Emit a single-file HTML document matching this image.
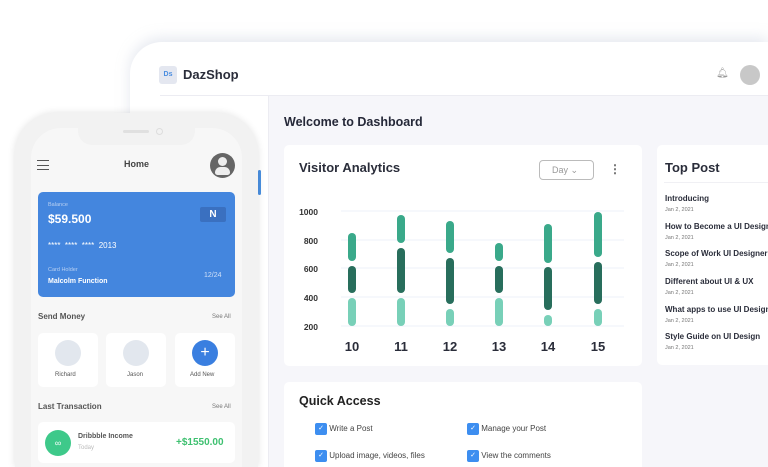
<!DOCTYPE html>
<html style="width:768px;height:467px;overflow:hidden"><head><style>
*{margin:0;padding:0;box-sizing:border-box}
body{width:768px;height:467px;overflow:hidden;background:#fff;font-family:"Liberation Sans",sans-serif;position:relative}
.a{position:absolute}
.t{white-space:nowrap}
</style></head><body>
<div class="a" style="left:0;top:0;width:768px;height:467px;overflow:hidden">
<div class="a" style="left:130px;top:42px;width:638px;height:425px;background:#fff;border-radius:32px 0 0 0;box-shadow:0 -4px 14px rgba(180,190,210,.35)"></div>
<div class="a" style="left:160px;top:95px;width:608px;height:1px;background:#ececf2"></div>
<div class="a" style="left:268px;top:96px;width:500px;height:371px;background:#f6f6fa;border-left:1px solid #ececf2"></div>
<div class="a" style="left:159px;top:66px;width:18px;height:18px;background:#e4e7f0;border-radius:3px;color:#4a8de0;font-size:7px;font-weight:bold;text-align:center;line-height:18px">Ds</div>
<div class="a t" style="left:183px;top:67px;font-size:13px;font-weight:bold;color:#2a2d3a">DazShop</div>
<div class="a t" style="left:716px;top:68px;font-size:10px;color:#999">&#x1F514;&#xFE0E;</div>
<div class="a" style="left:740px;top:65px;width:20px;height:20px;border-radius:50%;background:#c8c8c8"></div>
<div class="a t" style="left:284px;top:115px;font-size:12.5px;font-weight:bold;color:#252838">Welcome to Dashboard</div>
<div class="a" style="left:284px;top:145px;width:358px;height:221px;background:#fff;border-radius:5px"></div>
<div class="a t" style="left:299px;top:160px;font-size:13px;font-weight:bold;color:#2a2d3a">Visitor Analytics</div>
<div class="a" style="left:539px;top:160px;width:55px;height:20px;border:1px solid #bbb;border-radius:4px;font-size:9px;color:#999;line-height:18px;padding-left:12px">Day &#8964;</div>
<div class="a t" style="left:609px;top:162px;font-size:12px;color:#666;font-weight:bold">&#8942;</div>
<svg class="a" style="left:284px;top:145px" width="358" height="221">
<g stroke="#eef0f8" stroke-width="1">
<line x1="57" x2="340" y1="66" y2="66"/><line x1="57" x2="340" y1="95" y2="95"/><line x1="57" x2="340" y1="123" y2="123"/><line x1="57" x2="340" y1="152" y2="152"/><line x1="57" x2="340" y1="181" y2="181"/></g>
<g font-size="8.5" font-weight="bold" fill="#333" text-anchor="end" font-family="Liberation Sans">
<text x="34" y="70">1000</text><text x="34" y="99">800</text><text x="34" y="127">600</text><text x="34" y="156">400</text><text x="34" y="185">200</text></g>
<g font-size="13" font-weight="bold" fill="#2a2d3a" text-anchor="middle" font-family="Liberation Sans">
<text x="68" y="206">10</text><text x="117" y="206">11</text><text x="166" y="206">12</text><text x="215" y="206">13</text><text x="264" y="206">14</text><text x="314" y="206">15</text></g>
<g stroke-linecap="round" stroke-width="8">
<g stroke="#3aa98a"><line x1="68" x2="68" y1="92" y2="112"/><line x1="117" x2="117" y1="74" y2="94"/><line x1="166" x2="166" y1="80" y2="104"/><line x1="215" x2="215" y1="102" y2="112"/><line x1="264" x2="264" y1="83" y2="114"/><line x1="314" x2="314" y1="71" y2="108"/></g>
<g stroke="#286e5c"><line x1="68" x2="68" y1="125" y2="144"/><line x1="117" x2="117" y1="107" y2="144"/><line x1="166" x2="166" y1="117" y2="155"/><line x1="215" x2="215" y1="125" y2="144"/><line x1="264" x2="264" y1="126" y2="161"/><line x1="314" x2="314" y1="121" y2="155"/></g>
<g stroke="#78d0b8"><line x1="68" x2="68" y1="157" y2="177"/><line x1="117" x2="117" y1="157" y2="177"/><line x1="166" x2="166" y1="168" y2="177"/><line x1="215" x2="215" y1="157" y2="177"/><line x1="264" x2="264" y1="174" y2="177"/><line x1="314" x2="314" y1="168" y2="177"/></g>
</g></svg>
<div class="a" style="left:657px;top:145px;width:111px;height:220px;background:#fff;border-radius:5px 0 0 5px"></div>
<div class="a t" style="left:665px;top:160px;font-size:13px;font-weight:bold;color:#2a2d3a">Top Post</div>
<div class="a" style="left:664px;top:182px;width:104px;height:1px;background:#f0f0f4"></div>
<div class="a" style="left:665px;top:194px;width:103px;overflow:hidden;font-size:8px;color:#2a2d3a;font-weight:bold;line-height:10px;white-space:nowrap">
<div>Introducing</div><div style="font-size:5.5px;color:#777;font-weight:normal;height:17.7px;line-height:12px">Jan 2, 2021</div>
<div>How to Become a UI Designer</div><div style="font-size:5.5px;color:#777;font-weight:normal;height:17.7px;line-height:12px">Jan 2, 2021</div>
<div>Scope of Work UI Designer</div><div style="font-size:5.5px;color:#777;font-weight:normal;height:17.7px;line-height:12px">Jan 2, 2021</div>
<div>Different about UI &amp; UX</div><div style="font-size:5.5px;color:#777;font-weight:normal;height:17.7px;line-height:12px">Jan 2, 2021</div>
<div>What apps to use UI Designer</div><div style="font-size:5.5px;color:#777;font-weight:normal;height:17.7px;line-height:12px">Jan 2, 2021</div>
<div>Style Guide on UI Design</div><div style="font-size:5.5px;color:#777;font-weight:normal;line-height:12px">Jan 2, 2021</div></div>
<div class="a" style="left:284px;top:382px;width:358px;height:85px;background:#fff;border-radius:5px 5px 0 0"></div>
<div class="a t" style="left:299px;top:394px;font-size:12.5px;font-weight:bold;color:#222">Quick Access</div>
<div class="a t" style="left:315px;top:423px;font-size:8px;color:#444;line-height:12px">
<div style="position:absolute;left:0;top:0"><span style="display:inline-block;width:12px;height:12px;background:#3d8ef0;border-radius:2px;color:#fff;font-size:7px;text-align:center;vertical-align:top">&#10003;</span> Write a Post</div>
<div style="position:absolute;left:152px;top:0"><span style="display:inline-block;width:12px;height:12px;background:#3d8ef0;border-radius:2px;color:#fff;font-size:7px;text-align:center;vertical-align:top">&#10003;</span> Manage your Post</div>
<div style="position:absolute;left:0;top:27px"><span style="display:inline-block;width:12px;height:12px;background:#3d8ef0;border-radius:2px;color:#fff;font-size:7px;text-align:center;vertical-align:top">&#10003;</span> Upload image, videos, files</div>
<div style="position:absolute;left:152px;top:27px"><span style="display:inline-block;width:12px;height:12px;background:#3d8ef0;border-radius:2px;color:#fff;font-size:7px;text-align:center;vertical-align:top">&#10003;</span> View the comments</div>
</div>
<div class="a" style="left:258px;top:170px;width:3px;height:25px;background:#4a90e2;border-radius:2px"></div>
<div class="a" style="left:15px;top:113px;width:243px;height:354px;background:#f2f2f2;border-radius:42px 42px 0 0;box-shadow:0 0 8px rgba(0,0,0,.12)"></div>
<div class="a" style="left:31px;top:128px;width:211px;height:339px;background:#f7f7f7;border-radius:30px 30px 0 0"></div>
<div class="a" style="left:78px;top:120px;width:117px;height:25px;background:#f2f2f2;border-radius:0 0 14px 14px"></div>
<div class="a" style="left:123px;top:130px;width:26px;height:3px;background:#e0e0e0;border-radius:2px"></div>
<div class="a" style="left:156px;top:128px;width:7px;height:7px;border:1px solid #ddd;border-radius:50%"></div>
<div class="a" style="left:37px;top:160px;width:12px;height:10px;border-top:1.5px solid #555;border-bottom:1.5px solid #555"></div>
<div class="a" style="left:37px;top:164.5px;width:12px;height:1.5px;background:#555"></div>
<div class="a t" style="left:124px;top:159px;font-size:9px;font-weight:bold;color:#444">Home</div>
<div class="a" style="left:210px;top:153px;width:25px;height:25px;border-radius:50%;background:#666;overflow:hidden">
<div style="position:absolute;left:8px;top:4px;width:9px;height:9px;border-radius:50%;background:#eee"></div>
<div style="position:absolute;left:5px;top:14px;width:15px;height:8px;border-radius:7px 7px 3px 3px;background:#eee"></div></div>
<div class="a" style="left:38px;top:192px;width:197px;height:105px;background:#4486de;border-radius:5px;color:#fff">
<div class="a t" style="left:10px;top:10px;font-size:5.5px;color:#b8d0f2">Balance</div>
<div class="a t" style="left:10px;top:20px;font-size:12px;font-weight:bold">$59.500</div>
<div class="a t" style="left:10px;top:49px;font-size:8px">****&nbsp; ****&nbsp; ****&nbsp; 2013</div>
<div class="a t" style="left:10px;top:75px;font-size:5.5px;color:#b8d0f2">Card Holder</div>
<div class="a t" style="left:10px;top:86px;font-size:7px;font-weight:bold">Malcolm Function</div>
<div class="a t" style="left:166px;top:80px;font-size:7px;color:#d0e0f8">12/24</div>
<div class="a" style="left:162px;top:15px;width:26px;height:15px;background:#3a70c0;border-radius:2px;font-size:10px;font-weight:bold;text-align:center;line-height:15px">N</div></div>
<div class="a t" style="left:38px;top:312px;font-size:8px;color:#555;font-weight:bold">Send Money</div>
<div class="a t" style="left:212px;top:314px;font-size:6px;color:#777">See All</div>
<div class="a" style="left:38px;top:333px;width:60px;height:54px;background:#fff;border-radius:5px"></div>
<div class="a" style="left:106px;top:333px;width:60px;height:54px;background:#fff;border-radius:5px"></div>
<div class="a" style="left:175px;top:333px;width:60px;height:54px;background:#fff;border-radius:5px"></div>
<div class="a" style="left:55px;top:340px;width:26px;height:26px;border-radius:50%;background:#e2e7ee"></div>
<div class="a" style="left:123px;top:340px;width:26px;height:26px;border-radius:50%;background:#e2e7ee"></div>
<div class="a" style="left:192px;top:340px;width:26px;height:26px;border-radius:50%;background:#3a7fe0;color:#fff;font-size:16px;text-align:center;line-height:25px">+</div>
<div class="a t" style="left:55px;top:372px;font-size:6px;color:#555">Richard</div>
<div class="a t" style="left:127px;top:372px;font-size:6px;color:#555">Jason</div>
<div class="a t" style="left:190px;top:372px;font-size:6px;color:#555">Add New</div>
<div class="a t" style="left:38px;top:402px;font-size:8px;color:#555;font-weight:bold">Last Transaction</div>
<div class="a t" style="left:212px;top:404px;font-size:6px;color:#777">See All</div>
<div class="a" style="left:38px;top:422px;width:197px;height:41px;background:#fff;border-radius:5px"></div>
<div class="a" style="left:45px;top:430px;width:26px;height:26px;border-radius:50%;background:#3ec98a;color:#fff;font-size:9px;text-align:center;line-height:26px;font-style:italic">∞</div>
<div class="a t" style="left:78px;top:433px;font-size:7px;color:#555;font-weight:bold">Dribbble Income</div>
<div class="a t" style="left:78px;top:445px;font-size:6px;color:#bbb">Today</div>
<div class="a t" style="left:176px;top:437px;font-size:10px;color:#3ec070;font-weight:bold">+$1550.00</div>
</div>
</body></html>
